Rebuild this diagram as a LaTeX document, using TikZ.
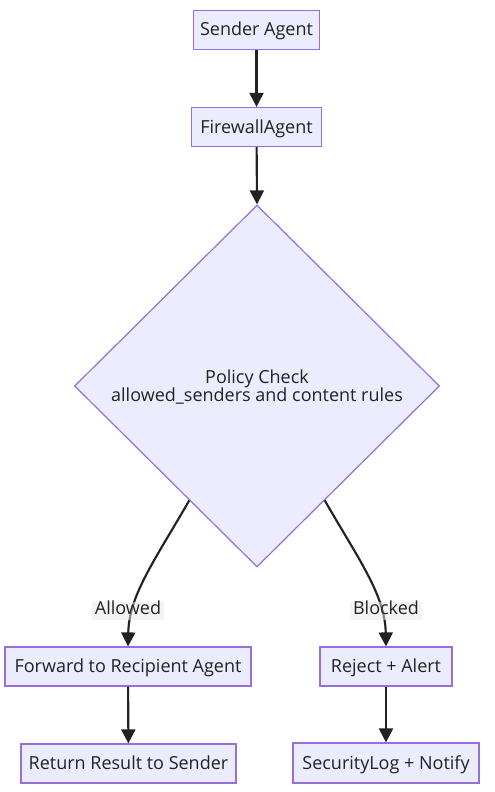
\documentclass[tikz,border=0pt]{standalone}
\usepackage{fontspec}
\setmainfont{Open Sans}
\usetikzlibrary{shapes.geometric,arrows.meta,calc}
\definecolor{nodefill}{HTML}{ECECFF}
\definecolor{nodeline}{HTML}{9370DB}
\definecolor{edgecol}{HTML}{222222}
\definecolor{labelbg}{HTML}{E8E8E8}
\begin{document}
\begin{tikzpicture}[x=0.75pt,y=-0.75pt,
  box/.style={draw=nodeline,fill=nodefill,line width=0.9pt,inner sep=0pt,
    font=\fontsize{13.5}{14}\selectfont,text=edgecol,text height=0.9em,text depth=0pt},
  wh/.style 2 args={minimum width=#1*0.75pt,minimum height=#2*0.75pt},
  decision/.style={diamond,draw=nodeline,fill=nodefill,line width=0.9pt,inner sep=0pt,
    aspect=1,font=\fontsize{13.5}{13.5}\selectfont,text=edgecol,align=center,text depth=0pt},
  flow/.style={draw=edgecol,line width=1.6pt,-{Triangle[length=10.5pt,width=10.5pt]}},
  elabel/.style={fill=labelbg,fill opacity=0.5,text opacity=1,text=edgecol,inner sep=2pt,
    font=\fontsize{13.5}{14}\selectfont,text height=0.74em,text depth=0.2em}]
\useasboundingbox (0,0) rectangle (495,792);
\fill[white] (0,0) rectangle (495,792);

\node[box,wh={126}{39}] (sender) at (256.5,30) {Sender Agent};
\node[box,wh={130}{39}] (fw) at (256.5,127) {FirewallAgent};
\node[decision,wh={365}{362}] (dia) at (257,386) {Policy Check\\allowed\_senders and content rules};
\node[box,wh={246}{39}] (fwd) at (128,666.5) {Forward to Recipient Agent};
\node[box,wh={132}{39}] (rej) at (386,666.5) {Reject + Alert};
\node[box,wh={215}{39}] (ret) at (128.5,763.5) {Return Result to Sender};
\node[box,wh={186}{40}] (sec) at (386,763) {SecurityLog + Notify};

\draw[flow] (sender) -- (fw);
\draw[flow] (fw) -- (dia.north);
\coordinate (dl) at ($(dia.west)!0.63!(dia.south)$);
\coordinate (dr) at ($(dia.east)!0.63!(dia.south)$);
\draw[flow] (dl) .. controls (155,560) and (129,595) .. (fwd.north);
\draw[flow] (dr) .. controls (359,560) and (385,595) .. (rej.north);
\node[elabel] (lab1) at (128,611) {Allowed};
\node[elabel] (lab2) at (386,611) {Blocked};
\draw[flow] (fwd) -- (ret);
\draw[flow] (rej) -- (sec);
\end{tikzpicture}
\end{document}
